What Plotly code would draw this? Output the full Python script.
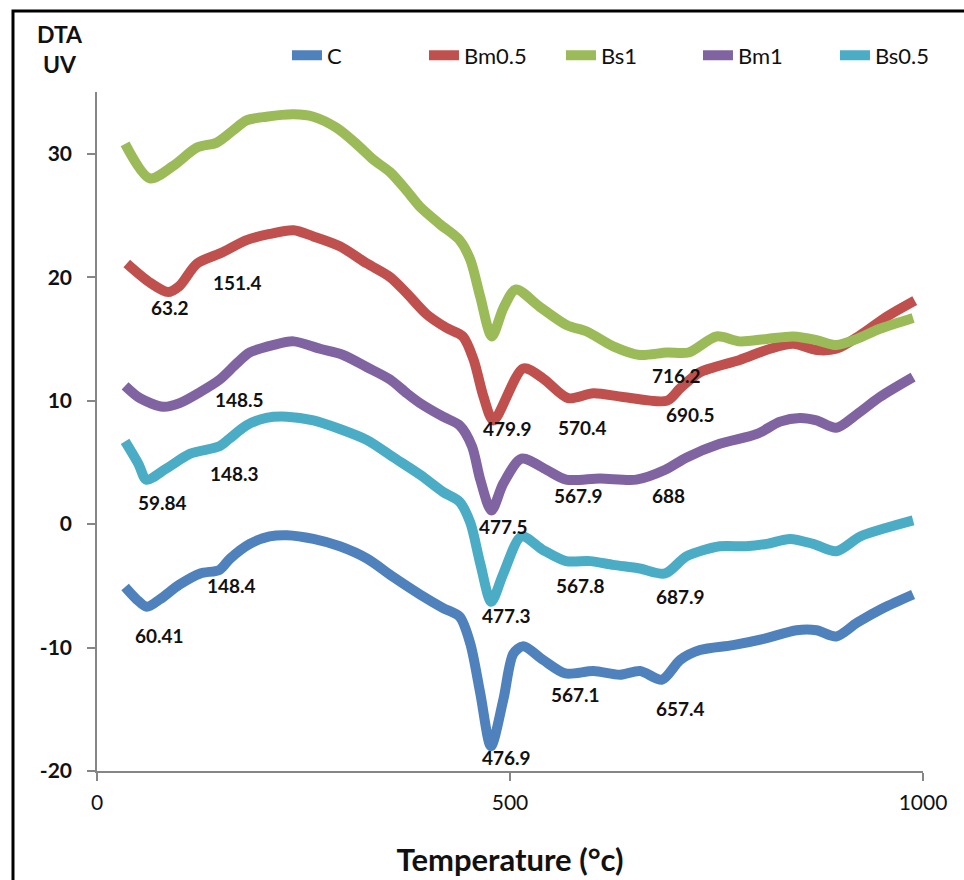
import plotly.graph_objects as go

# ---- DTA curves (temperature in °C, signal in uV) ----
c_x = [34, 48, 60.41, 76, 100, 125, 148.4, 161, 185, 209, 230, 262, 294, 327, 359, 391, 419, 439, 452, 464,
       476.9, 492, 504, 516, 540, 567.1, 601, 633, 657.4, 684, 706, 730, 770, 807, 847, 871, 895, 920, 952, 988]
c_y = [-5.1, -6.1, -6.7, -6.1, -4.9, -4.0, -3.7, -2.8, -1.6, -1.0, -0.9, -1.2, -1.8, -2.8, -4.3, -5.7, -6.8, -7.5, -9.7, -13.7,
       -18.0, -14.2, -10.5, -9.9, -11.0, -12.1, -11.9, -12.2, -11.9, -12.6, -11.0, -10.2, -9.8, -9.3, -8.6, -8.6, -9.1, -8.0, -6.8, -5.7]

bm05_x = [36, 63.2, 86, 100, 121, 151.4, 181, 209, 238, 262, 294, 327, 355, 375, 399, 423, 443, 456, 468, 479.9,
          516, 540, 570.4, 601, 637, 690.5, 706, 730, 778, 815, 843, 871, 895, 924, 956, 990]
bm05_y = [21.1, 19.6, 18.8, 19.3, 21.1, 22.0, 23.0, 23.5, 23.8, 23.3, 22.5, 21.1, 20.0, 18.7, 17.0, 15.9, 15.2, 13.3, 10.3, 8.4,
          12.6, 11.8, 10.2, 10.6, 10.3, 10.0, 11.0, 12.3, 13.3, 14.2, 14.6, 14.1, 14.2, 15.3, 16.8, 18.1]

bs1_x = [34, 64, 92, 121, 145, 165, 181, 205, 238, 262, 290, 314, 335, 355, 375, 391, 415, 439, 452, 464,
         478, 492, 507, 536, 569, 593, 625, 657, 690, 716.2, 750, 778, 811, 843, 871, 895, 920, 947, 988]
bs1_y = [30.8, 28.0, 29.0, 30.5, 30.9, 31.9, 32.7, 33.0, 33.2, 33.0, 32.1, 30.8, 29.5, 28.5, 27.0, 25.7, 24.3, 23.0, 21.4, 18.4,
         15.2, 17.5, 19.0, 17.6, 16.1, 15.6, 14.4, 13.7, 13.9, 13.9, 15.2, 14.8, 15.0, 15.2, 14.9, 14.5, 15.0, 15.8, 16.7]

bm1_x = [34, 52, 80, 100, 125, 148.5, 169, 185, 213, 238, 270, 298, 327, 355, 375, 391, 419, 439, 454, 464,
         477.5, 492, 514, 544, 567.9, 609, 653, 688, 714, 754, 799, 827, 851, 871, 895, 920, 948, 988]
bm1_y = [11.2, 10.2, 9.5, 9.8, 10.7, 11.7, 13.0, 13.9, 14.5, 14.8, 14.2, 13.7, 12.7, 11.7, 10.6, 9.8, 8.7, 8.0, 6.3, 3.6,
         1.1, 3.3, 5.3, 4.4, 3.6, 3.7, 3.6, 4.4, 5.4, 6.5, 7.3, 8.3, 8.6, 8.4, 7.8, 8.9, 10.3, 11.9]

bs05_x = [34, 50, 59.84, 84, 113, 148.3, 160, 181, 205, 230, 262, 294, 327, 359, 391, 419, 439, 452, 464,
          477.3, 492, 514, 540, 567.8, 597, 625, 657, 687.9, 714, 754, 786, 811, 839, 867, 895, 924, 956, 988]
bs05_y = [6.7, 4.9, 3.6, 4.5, 5.7, 6.3, 6.9, 8.0, 8.6, 8.7, 8.4, 7.7, 6.8, 5.4, 4.0, 2.6, 1.8, 0.1, -3.2,
          -6.3, -4.0, -1.0, -2.1, -3.0, -3.0, -3.3, -3.6, -4.0, -2.6, -1.8, -1.8, -1.6, -1.2, -1.6, -2.2, -1.0, -0.3, 0.3]

series_names = ["C", "Bm0.5", "Bs1", "Bm1", "Bs0.5"]
series_x = [c_x, bm05_x, bs1_x, bm1_x, bs05_x]
series_y = [c_y, bm05_y, bs1_y, bm1_y, bs05_y]
series_colors = ["#4F81BD", "#C0504D", "#9BBB59", "#8064A2", "#4BACC6"]

# Peak temperatures annotated on each curve
peak_temps = {
    "C": [60.41, 148.4, 476.9, 567.1, 657.4],
    "Bm0.5": [63.2, 151.4, 479.9, 570.4, 690.5],
    "Bs1": [716.2],
    "Bm1": [148.5, 477.5, 567.9, 688],
    "Bs0.5": [59.84, 148.3, 477.3, 567.8, 687.9],
}
# Pixel offsets of each peak label from its point (right, down)
label_offsets = {
    "C": [(13, 29), (12, 16), (16, 11), (10, 21), (40, 37)],
    "Bm0.5": [(21, 25), (15, 30), (14, 8), (14, 29), (23, 14)],
    "Bs1": [(-12, 23)],
    "Bm1": [(20, 20), (12, 16), (12, 16), (3, 26)],
    "Bs0.5": [(16, 23), (15, 27), (15, 14), (14, 24), (15, 23)],
}

x_ticks = [0, 500, 1000]
y_ticks = [-20, -10, 0, 10, 20, 30]

FONT = "Lato"
AXIS_GREY = "#868686"
INK = "#111111"

fig = go.Figure()
for name, xs, ys, col in zip(series_names, series_x, series_y, series_colors):
    fig.add_trace(go.Scatter(
        x=xs, y=ys, name=name, mode="lines",
        line=dict(color=col, width=10, shape="spline", smoothing=0.8),
        hoverinfo="x+y+name",
    ))

annotations = []
for name, xs, ys in zip(series_names, series_x, series_y):
    for t, (dx, dy) in zip(peak_temps[name], label_offsets[name]):
        yv = ys[xs.index(t)]
        annotations.append(dict(
            x=t, y=yv, xref="x", yref="y", text=f"{t:g}", showarrow=False,
            xshift=dx, yshift=-dy,
            font=dict(family=FONT, size=19, color=INK, weight="bold"),
        ))

# Y-axis caption in the top-left corner
annotations.append(dict(
    x=-0.045, y=1.064, xref="paper", yref="paper", text="DTA<br>UV", showarrow=False,
    xanchor="center", yanchor="middle", align="center",
    font=dict(family=FONT, size=23, color=INK, weight="bold"),
))

fig.update_layout(
    width=964, height=880,
    margin=dict(l=97, r=41, t=92, b=109, autoexpand=False),
    paper_bgcolor="white", plot_bgcolor="white",
    showlegend=True,
    legend=dict(
        orientation="h", x=0.23, y=1.054, xanchor="left", yanchor="middle",
        font=dict(family=FONT, size=22, color=INK),
        bgcolor="rgba(0,0,0,0)", entrywidth=92, entrywidthmode="pixels",
    ),
    annotations=annotations,
    shapes=[dict(
        type="rect", xref="paper", yref="paper",
        x0=-0.1017, x1=1.08, y0=-0.2, y1=1.1193,
        line=dict(color="black", width=3), fillcolor="rgba(0,0,0,0)", layer="above",
    )],
    xaxis=dict(
        range=[0, 1000], tickvals=x_ticks, ticktext=[str(v) for v in x_ticks],
        showgrid=False, zeroline=False,
        showline=True, linecolor=AXIS_GREY, linewidth=1.5,
        ticks="outside", ticklen=8, tickcolor=AXIS_GREY, tickwidth=1.5,
        ticklabelstandoff=4,
        tickfont=dict(family=FONT, size=21, color=INK),
        title=dict(text="Temperature (°c)", standoff=36,
                   font=dict(family=FONT, size=31, color=INK, weight="bold")),
    ),
    yaxis=dict(
        range=[-20, 35], tickvals=y_ticks, ticktext=[str(v) for v in y_ticks],
        showgrid=False, zeroline=False,
        showline=True, linecolor=AXIS_GREY, linewidth=1.5,
        ticks="outside", ticklen=8, tickcolor=AXIS_GREY, tickwidth=1.5,
        ticklabelstandoff=11,
        tickfont=dict(family=FONT, size=21, color=INK, weight="bold"),
    ),
)

fig.write_html("out.html")
